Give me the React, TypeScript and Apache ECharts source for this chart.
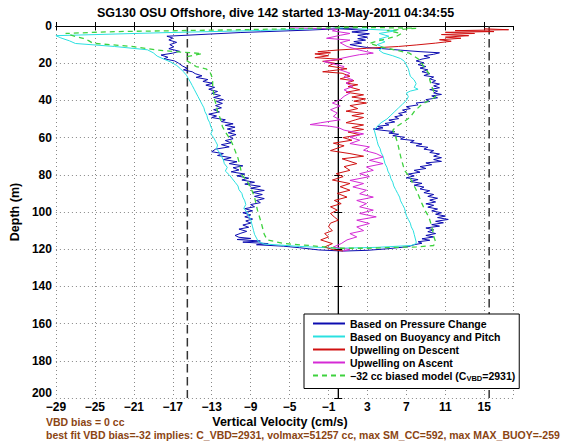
import React, { useEffect, useRef } from "react";
import * as echarts from "echarts";

// [velocity (cm/s), depth (m)]
const pressureChange: [number, number][] = [
  [2.0, 1.0], [-3.0, 2.2], [-10.0, 3.5], [-17.6, 5.5], [-17.0, 6.5], [-17.4, 7.5], [-16.6, 8.8], [-17.3, 10.0],
  [-16.9, 11.2], [-17.4, 12.2], [-16.3, 13.6], [-17.0, 14.6], [-18.2, 15.6], [-17.5, 16.8], [-17.9, 17.6],
  [-16.8, 18.8], [-16.4, 20.0], [-16.0, 21.5], [-15.5, 22.8], [-15.9, 23.6], [-15.0, 24.6], [-14.7, 25.6],
  [-14.0, 26.8], [-14.6, 27.6], [-13.4, 28.8], [-13.9, 29.8], [-12.9, 30.8], [-13.6, 31.8], [-12.7, 33.0],
  [-13.3, 34.0], [-12.4, 35.2], [-13.0, 36.2], [-12.1, 37.4], [-12.8, 38.4], [-11.8, 39.6], [-12.5, 40.6],
  [-11.9, 41.6], [-12.6, 42.8], [-12.0, 44.0], [-12.8, 45.0], [-12.2, 46.2], [-13.3, 47.4], [-12.5, 48.4],
  [-13.0, 49.2], [-11.6, 50.4], [-12.0, 51.4], [-10.8, 52.6], [-11.6, 53.4], [-10.6, 54.4], [-11.4, 55.4],
  [-10.6, 56.4], [-11.3, 57.4], [-10.5, 58.4], [-11.2, 59.4], [-10.8, 60.6], [-11.6, 61.6], [-11.0, 62.8],
  [-12.0, 63.8], [-11.2, 65.0], [-12.6, 66.2], [-13.0, 67.6], [-11.8, 68.6], [-12.4, 69.6], [-11.0, 70.8],
  [-11.8, 71.8], [-10.4, 73.0], [-11.2, 74.0], [-9.8, 75.2], [-10.8, 76.2], [-10.2, 77.4], [-11.0, 78.4],
  [-9.6, 79.6], [-10.4, 80.6], [-9.2, 81.8], [-9.9, 82.8], [-8.6, 84.0], [-9.6, 85.0], [-8.0, 86.2],
  [-9.0, 87.2], [-7.6, 88.4], [-8.8, 89.4], [-7.8, 90.6], [-8.6, 91.6], [-7.6, 92.8], [-8.4, 93.8],
  [-8.0, 95.0], [-9.0, 96.0], [-8.6, 97.2], [-9.6, 98.2], [-8.8, 99.4], [-9.8, 100.4], [-9.0, 101.6],
  [-9.6, 102.6], [-8.8, 103.8], [-9.5, 104.8], [-9.0, 106.0], [-9.8, 107.0], [-9.2, 108.2], [-10.2, 109.2],
  [-9.4, 110.4], [-10.0, 111.4], [-10.6, 112.6], [-10.2, 113.6], [-9.0, 114.2], [-10.4, 114.8], [-8.0, 115.6],
  [-9.8, 116.2], [-7.2, 117.0], [-8.4, 117.6], [-5.6, 118.4], [-4.0, 119.2], [-2.0, 120.4], [0.5, 121.0],
  [3.0, 120.6], [5.0, 119.8], [7.2, 118.6], [7.8, 117.6], [8.6, 116.8], [8.2, 116.0], [9.4, 115.2],
  [8.6, 114.4], [9.8, 113.4], [9.0, 112.6], [10.0, 111.6], [9.2, 110.6], [9.8, 109.6], [9.0, 108.6],
  [10.4, 107.6], [9.6, 106.8], [10.8, 105.8], [10.0, 105.0], [11.3, 104.0], [10.2, 103.0], [11.0, 102.2],
  [10.0, 101.2], [10.6, 100.4], [9.6, 99.4], [10.2, 98.4], [9.2, 97.4], [9.8, 96.4], [9.0, 95.6],
  [10.0, 94.6], [9.4, 93.6], [10.2, 92.6], [9.2, 91.6], [9.8, 90.6], [8.8, 89.6], [9.4, 88.6], [8.4, 87.6],
  [8.8, 86.6], [7.8, 85.6], [8.6, 84.6], [7.4, 83.6], [8.2, 82.6], [7.0, 81.6], [7.8, 80.6], [7.2, 79.6],
  [8.4, 78.6], [7.8, 77.6], [9.0, 76.6], [8.4, 75.6], [9.6, 74.6], [9.0, 73.6], [10.6, 72.8], [9.8, 71.8],
  [10.6, 70.8], [9.8, 70.0], [10.4, 68.8], [9.4, 68.0], [9.8, 67.0], [8.8, 66.2], [9.2, 65.2], [8.0, 64.4],
  [8.6, 63.4], [7.4, 62.6], [7.8, 61.6], [6.4, 60.8], [6.8, 59.8], [5.6, 59.0], [6.2, 58.2], [5.2, 57.6],
  [5.8, 56.8], [4.4, 56.0], [3.6, 55.4], [4.6, 54.8], [4.0, 54.0], [5.2, 53.2], [4.8, 52.4], [5.8, 51.6],
  [5.2, 50.6], [6.2, 49.8], [5.8, 48.8], [6.6, 48.0], [6.2, 47.0], [7.0, 46.2], [6.6, 45.2], [7.4, 44.4],
  [7.0, 43.4], [8.2, 42.4], [8.0, 41.4], [9.4, 40.6], [9.0, 39.6], [10.2, 38.6], [9.6, 37.6], [10.6, 36.8],
  [9.8, 36.0], [10.2, 35.0], [9.4, 34.2], [10.4, 33.2], [9.8, 32.2], [10.4, 31.2], [9.6, 30.4], [10.0, 29.4],
  [9.4, 28.4], [9.8, 27.4], [8.8, 26.6], [9.4, 25.6], [8.6, 24.6], [9.2, 23.6], [8.4, 22.6], [9.0, 21.8],
  [8.2, 20.8], [8.8, 19.8], [8.0, 18.8], [8.6, 17.8], [9.4, 17.0], [8.8, 16.0], [9.8, 15.2], [10.4, 14.4],
  [8.4, 13.8], [6.4, 13.0], [4.6, 12.2], [3.0, 11.6], [2.0, 10.8], [1.2, 10.0], [2.4, 9.2], [1.6, 8.4],
  [2.8, 7.6], [2.0, 6.8], [3.0, 6.0], [2.0, 5.0], [3.2, 4.2], [1.4, 3.2], [3.0, 2.4], [0.5, 1.6], [-0.5, 1.2],
];

const buoyancyPitch: [number, number][] = [
  [0.5, 1.0], [-8.0, 2.4], [-18.0, 3.6], [-29.0, 5.2], [-28.5, 6.4], [-27.6, 8.0], [-27.0, 9.4], [-23.0, 11.0],
  [-19.6, 12.8], [-19.0, 14.4], [-18.6, 16.2], [-18.0, 17.6], [-17.2, 19.4], [-16.6, 21.2], [-16.2, 23.0],
  [-15.9, 24.6], [-15.6, 26.4], [-15.4, 28.2], [-15.2, 30.0], [-15.0, 32.0], [-14.8, 34.0], [-14.6, 36.0],
  [-14.4, 38.0], [-14.2, 40.0], [-14.0, 42.0], [-13.8, 44.0], [-13.7, 46.0], [-13.5, 48.0], [-13.4, 50.0],
  [-13.2, 52.0], [-13.1, 54.0], [-12.9, 56.0], [-13.1, 58.0], [-12.8, 60.0], [-12.6, 62.0], [-12.4, 64.0],
  [-12.5, 66.0], [-12.2, 68.0], [-12.0, 70.0], [-11.8, 72.0], [-11.7, 74.0], [-11.4, 76.0], [-11.6, 78.0],
  [-11.2, 80.0], [-10.9, 82.0], [-10.6, 84.0], [-10.3, 86.0], [-10.2, 88.0], [-9.9, 90.0], [-9.8, 92.0],
  [-9.6, 94.0], [-9.5, 96.0], [-9.7, 98.0], [-9.4, 100.0], [-9.2, 102.0], [-9.0, 104.0], [-8.9, 106.0],
  [-8.8, 108.0], [-8.7, 110.0], [-8.6, 112.0], [-8.4, 114.0], [-8.2, 116.0], [-7.6, 117.2], [-4.0, 118.5],
  [0.0, 119.5], [4.0, 119.0], [7.5, 118.0], [8.0, 117.0], [8.0, 116.0], [7.9, 114.0], [7.8, 112.0],
  [7.7, 110.0], [7.5, 108.0], [7.4, 106.0], [7.2, 104.0], [7.0, 102.0], [6.9, 100.0], [6.8, 98.0],
  [6.6, 96.0], [6.4, 94.0], [6.3, 92.0], [6.1, 90.0], [5.9, 88.0], [5.7, 86.0], [5.6, 84.0], [5.4, 82.0],
  [5.3, 80.0], [5.1, 78.0], [5.0, 76.0], [4.8, 74.0], [4.7, 72.0], [4.6, 70.0], [4.4, 68.0], [4.3, 66.0],
  [4.1, 64.0], [4.0, 62.0], [3.9, 60.0], [3.8, 58.0], [3.7, 56.0], [4.0, 54.0], [4.4, 52.0], [5.0, 50.0],
  [5.4, 48.0], [5.8, 46.0], [6.2, 44.0], [6.6, 42.0], [7.0, 40.0], [7.2, 38.0], [7.0, 36.0], [7.4, 35.0],
  [8.2, 34.0], [7.8, 33.0], [8.0, 31.0], [7.8, 29.0], [7.4, 27.0], [7.3, 25.0], [7.2, 23.0], [7.0, 21.0],
  [6.8, 19.0], [6.4, 17.5], [5.6, 16.0], [4.6, 14.5], [4.2, 13.0], [4.6, 11.5], [4.0, 10.0], [4.8, 8.5],
  [4.2, 7.0], [5.2, 5.5], [4.2, 4.0], [6.0, 2.5], [2.0, 1.5],
];

const upwellingDescent: [number, number][] = [
  [15.0, 1.5], [17.5, 2.0], [12.0, 2.5], [16.0, 3.0], [11.0, 3.4], [14.0, 4.0], [10.6, 4.6], [13.4, 5.2],
  [11.0, 6.0], [12.6, 6.6], [10.4, 7.4], [11.6, 8.2], [10.0, 9.2], [8.0, 10.2], [6.2, 11.0], [2.9, 12.0],
  [0.0, 12.9], [-2.1, 13.8], [-0.8, 14.4], [-2.4, 15.0], [-1.0, 16.0], [-2.4, 17.0], [0.4, 18.0],
  [-1.6, 19.0], [-0.4, 20.0], [-1.0, 21.5], [0.9, 23.0], [-1.6, 24.6], [0.4, 25.4], [1.2, 27.0],
  [0.2, 28.4], [1.6, 29.4], [0.8, 30.7], [2.0, 31.6], [1.0, 32.6], [2.2, 34.3], [0.8, 35.6], [2.6, 37.0],
  [1.4, 38.2], [2.8, 39.2], [1.6, 40.4], [2.9, 41.4], [1.2, 42.8], [2.0, 44.4], [0.8, 45.8], [2.6, 47.0],
  [1.4, 48.2], [2.6, 49.2], [1.8, 50.4], [0.8, 52.0], [2.6, 53.2], [1.4, 54.6], [2.6, 55.6], [1.0, 57.0],
  [2.2, 58.4], [0.5, 60.0], [1.4, 61.4], [-0.5, 63.0], [0.6, 64.4], [-0.8, 67.0], [1.2, 68.6], [2.6, 70.0],
  [0.4, 71.4], [1.9, 74.0], [0.6, 75.6], [1.2, 77.6], [-0.2, 79.4], [0.5, 81.0], [-0.6, 82.8], [1.2, 84.7],
  [0.2, 86.4], [1.2, 88.3], [-0.1, 90.0], [0.9, 92.0], [-0.4, 93.8], [0.3, 95.5], [-0.8, 97.2], [-0.1, 99.0],
  [-0.8, 100.8], [-0.4, 102.7], [0.0, 104.4], [-0.8, 106.0], [-1.0, 108.0], [-0.6, 110.0], [-1.4, 111.6],
  [-1.0, 113.4], [-1.8, 115.0], [-0.6, 117.0], [-1.4, 118.8], [-0.6, 120.2], [0.5, 121.0],
];

const upwellingAscent: [number, number][] = [
  [-5.0, 1.0], [0.0, 1.6], [-0.6, 2.6], [1.2, 4.0], [0.2, 5.0], [-1.2, 6.6], [1.2, 7.6], [0.2, 9.0],
  [0.9, 11.0], [2.2, 13.0], [3.6, 14.6], [2.2, 15.4], [1.2, 16.4], [-0.2, 18.0], [-1.5, 19.1], [-0.8, 20.0],
  [0.6, 21.8], [0.2, 23.6], [1.2, 25.4], [0.6, 27.2], [1.5, 29.0], [0.8, 30.7], [1.5, 32.5], [0.6, 34.3],
  [1.2, 36.0], [0.6, 37.8], [0.2, 39.6], [-0.6, 41.4], [0.2, 43.0], [-0.8, 45.0], [-0.1, 46.8], [-0.5, 48.6],
  [0.2, 50.4], [-1.8, 52.0], [-2.9, 53.0], [-1.0, 53.8], [0.0, 54.6], [0.6, 56.0], [2.6, 58.0], [1.2, 59.8],
  [2.2, 61.4], [1.2, 63.2], [3.2, 65.0], [2.6, 66.8], [3.9, 68.6], [4.6, 70.4], [3.2, 72.2], [4.6, 74.0],
  [2.9, 75.8], [3.6, 77.6], [2.2, 79.4], [3.2, 81.0], [1.2, 83.0], [2.6, 84.7], [1.5, 86.5], [2.9, 88.3],
  [2.2, 90.2], [3.6, 92.0], [1.9, 93.8], [2.9, 95.5], [2.2, 97.2], [3.6, 99.0], [2.2, 100.8], [3.9, 102.6],
  [1.9, 104.4], [3.2, 106.2], [1.9, 108.0], [2.6, 110.0], [1.2, 111.6], [1.9, 113.4], [0.9, 115.0],
  [0.3, 117.0], [-0.5, 118.8], [1.2, 120.2], [0.5, 121.0],
];

const biasedModel: [number, number][] = [
  [2.0, 0.8], [-10.0, 2.0], [-22.9, 3.0], [-28.0, 4.0], [-27.0, 5.6], [-26.2, 6.6], [-25.6, 8.0], [-25.2, 9.3],
  [-21.2, 11.0], [-18.6, 12.9], [-16.2, 14.0], [-14.0, 14.8], [-15.5, 16.5], [-15.6, 18.5], [-15.0, 20.5],
  [-14.6, 21.8], [-13.6, 23.0], [-13.2, 24.5], [-13.0, 27.0], [-12.9, 30.0], [-12.9, 33.0], [-12.8, 36.0],
  [-12.7, 39.6], [-12.5, 43.0], [-12.4, 46.0], [-12.1, 50.0], [-11.9, 54.0], [-11.6, 57.0], [-11.2, 60.0],
  [-10.9, 63.0], [-10.6, 67.0], [-10.3, 71.0], [-10.1, 75.0], [-9.9, 80.0], [-9.3, 84.0], [-8.9, 88.0],
  [-8.6, 92.0], [-8.3, 99.0], [-7.9, 106.0], [-7.6, 112.0], [-7.3, 115.0], [-5.5, 117.0], [-3.0, 118.0],
  [0.0, 119.5], [3.0, 119.5], [6.0, 119.0], [8.0, 118.8], [9.8, 118.0], [10.0, 116.0], [9.8, 113.0],
  [9.7, 110.0], [9.5, 106.0], [9.3, 102.6], [8.9, 99.0], [8.6, 95.5], [8.0, 88.0], [7.3, 81.0], [6.8, 77.6],
  [6.4, 70.0], [6.1, 63.0], [5.8, 58.0], [5.6, 56.0], [6.0, 54.0], [6.6, 52.0], [7.4, 49.0], [7.8, 46.0],
  [8.6, 42.0], [9.4, 40.0], [10.0, 38.0], [9.8, 35.0], [9.6, 32.5], [9.4, 29.0], [9.3, 25.4], [8.8, 22.0],
  [8.3, 18.0], [7.3, 14.6], [5.5, 12.5], [4.2, 11.0], [3.2, 9.3], [4.5, 7.5], [6.0, 5.5], [6.5, 4.0],
  [5.0, 2.5], [8.0, 1.2], [0.0, 0.5],
];

const limitLines = [-15.5, 15.5];
const zeroLine = 0;
const xMin = -29;
const xMax = 18;
const xStep = 4;
const yMin = 0;
const yMax = 200;
const yStep = 20;

const seriesNames = [
  "Based on Pressure Change",
  "Based on Buoyancy and Pitch",
  "Upwelling on Descent",
  "Upwelling on Ascent",
  "-32 cc biased model (C_VBD=2931)",
];
const titleText = "SG130 OSU Offshore, dive 142 started 13-May-2011 04:34:55";
const xName = "Vertical Velocity (cm/s)";
const yName = "Depth (m)";
const note1 = "VBD bias = 0 cc";
const note2 =
  "best fit VBD bias=-32 implies: C_VBD=2931, volmax=51257 cc, max SM_CC=592, max MAX_BUOY=-259";

const FONT = '"Liberation Sans", Arial, Helvetica, sans-serif';
const minus = (s: string) => s.replace(/-/g, "\u2212");

export default function App() {
  const ref = useRef<HTMLDivElement>(null);
  useEffect(() => {
    if (!ref.current) return;
    const chart = echarts.init(ref.current, undefined, { renderer: "svg" });
    const lineSeries = (name: string, data: [number, number][], color: string, extra: any = {}) => ({
      name,
      type: "line",
      data,
      symbol: "none",
      showSymbol: false,
      xAxisIndex: 0,
      yAxisIndex: 0,
      lineStyle: { color, width: 1, ...(extra.lineStyle || {}) },
      itemStyle: { color },
      z: extra.z ?? 3,
    });
    const vline = (x: number, dashed: boolean) => ({
      type: "line",
      data: [
        [x, yMin],
        [x, yMax],
      ],
      symbol: "none",
      silent: true,
      xAxisIndex: 0,
      yAxisIndex: 0,
      lineStyle: dashed
        ? { color: "#333", width: 1.5, type: [8.5, 4.5] }
        : { color: "#000", width: 1.2 },
      z: 2,
    });
    const axisCommon = {
      axisLine: { show: true, lineStyle: { color: "#000", width: 1 } },
      axisTick: { show: true, inside: true, length: 4, lineStyle: { color: "#000" } },
    };
    chart.setOption({
      animation: false,
      backgroundColor: "#fff",
      grid: { left: 46, right: 52.5, top: 26, bottom: 44 },
      xAxis: [
        {
          type: "value",
          min: xMin,
          max: xMax,
          interval: xStep,
          position: "bottom",
          ...axisCommon,
          axisLabel: {
            showMaxLabel: false,
            margin: 3,
            color: "#000",
            fontFamily: FONT,
            fontWeight: "bold",
            fontSize: 12,
            formatter: (v: number) => minus(String(v)),
          },
          splitLine: { show: true, lineStyle: { color: "#888", width: 1, type: [1, 3] } },
        },
        {
          type: "value",
          min: xMin,
          max: xMax,
          interval: xStep,
          position: "top",
          ...axisCommon,
          axisLabel: { show: false },
          splitLine: { show: false },
        },
      ],
      yAxis: [
        {
          type: "value",
          inverse: true,
          min: yMin,
          max: yMax,
          interval: yStep,
          position: "left",
          ...axisCommon,
          axisLabel: {
            margin: 4,
            color: "#000",
            fontFamily: FONT,
            fontWeight: "bold",
            fontSize: 12,
            formatter: (v: number) => (v === yMax ? "{hi|" + v + "}" : String(v)),
            rich: {
              hi: {
                color: "#000",
                fontFamily: FONT,
                fontWeight: "bold",
                fontSize: 12,
                padding: [0, 0, 10, 0],
              },
            },
          },
          splitLine: { show: true, lineStyle: { color: "#888", width: 1, type: [1, 3] } },
          name: yName,
          nameLocation: "middle",
          nameGap: 33,
          nameTextStyle: { color: "#000", fontFamily: FONT, fontWeight: "bold", fontSize: 12.5 },
        },
        {
          type: "value",
          inverse: true,
          min: yMin,
          max: yMax,
          interval: yStep,
          position: "right",
          ...axisCommon,
          axisLabel: { show: false },
          splitLine: { show: false },
        },
      ],
      legend: {
        data: seriesNames,
        orient: "vertical",
        left: 304,
        top: 314,
        padding: [4, 4, 6, 8],
        itemWidth: 32,
        itemHeight: 10,
        itemGap: 2,
        backgroundColor: "#fff",
        borderColor: "#000",
        borderWidth: 1,
        borderRadius: 0,
        selectedMode: false,
        itemStyle: { opacity: 0 },
        formatter: (name: string) =>
          name === seriesNames[4]
            ? "{t|" + minus("-32 cc biased model (C") + "}{s|VBD}{t|=2931)}"
            : name,
        textStyle: {
          color: "#000",
          fontFamily: FONT,
          fontWeight: "bold",
          fontSize: 10.5,
          rich: {
            t: { color: "#000", fontFamily: FONT, fontWeight: "bold", fontSize: 10.5 },
            s: { color: "#000", fontFamily: FONT, fontWeight: "bold", fontSize: 7.5, padding: [6, 0, 0, 0] },
          },
        },
      },
      graphic: [
        {
          type: "text",
          left: 280 - 183,
          top: 6,
          style: {
            text: titleText,
            fill: "#000",
            font: `bold 12.5px ${FONT}`,
          },
        },
        {
          type: "text",
          x: 280,
          y: 415,
          style: {
            text: xName,
            fill: "#000",
            font: `bold 12.5px ${FONT}`,
            align: "center",
            verticalAlign: "top",
          },
        },
        {
          type: "text",
          left: 46,
          top: 416,
          style: { text: note1, fill: "#8b4513", font: `bold 10.5px ${FONT}` },
        },
        {
          type: "text",
          left: 46,
          top: 429,
          style: { text: note2, fill: "#8b4513", font: `bold 10.5px ${FONT}` },
        },
      ],
      series: [
        vline(limitLines[0], true),
        vline(limitLines[1], true),
        vline(zeroLine, false),
        lineSeries(seriesNames[0], pressureChange, "#0c0cb0"),
        lineSeries(seriesNames[1], buoyancyPitch, "#2ae0e0"),
        lineSeries(seriesNames[2], upwellingDescent, "#d01010"),
        lineSeries(seriesNames[3], upwellingAscent, "#d52ad5"),
        lineSeries(seriesNames[4], biasedModel, "#3ed23e", { lineStyle: { type: [5, 4], width: 1.3 }, z: 4 }),
      ],
    });
    return () => chart.dispose();
  }, []);
  return (
    <div
      ref={ref}
      style={{ position: "fixed", left: 0, top: 0, width: 566, height: 442, background: "#fff" }}
    />
  );
}
